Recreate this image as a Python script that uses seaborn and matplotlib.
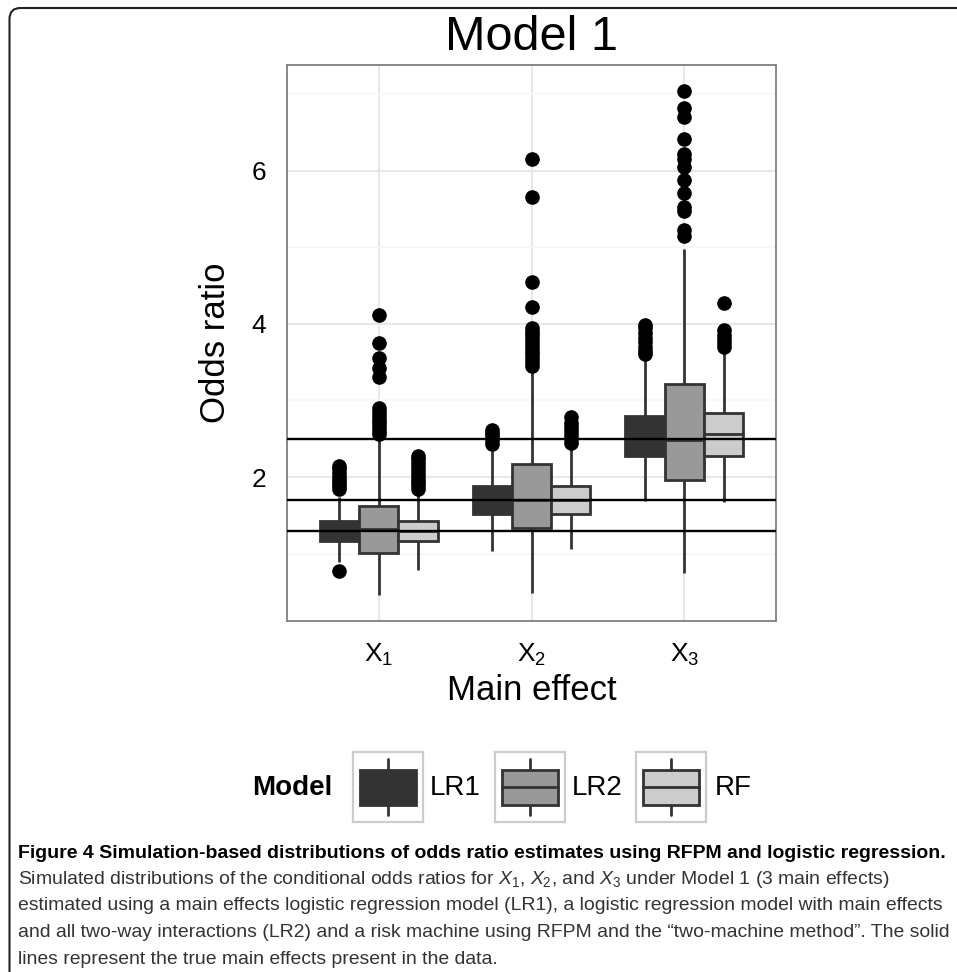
import numpy as np
import pandas as pd
import matplotlib
matplotlib.use("Agg")
import matplotlib.pyplot as plt
from matplotlib.patches import FancyBboxPatch, Rectangle
from matplotlib.transforms import IdentityTransform
import seaborn as sns

# ------------------------------ DATA ------------------------------

effects = ["X1", "X2", "X3"]
effect_labels = ["X$_1$", "X$_2$", "X$_3$"]
models = ["LR1", "LR2", "RF"]
model_colors = ["#333333", "#999999", "#cccccc"]
true_effects = [1.3, 1.7, 2.5]

# box summaries (rows = main effect, cols = model)
whisker_lo = [[0.89, 0.46, 0.78], [1.04, 0.49, 1.06], [1.69, 0.75, 1.67]]
q1 = [[1.17, 1.01, 1.16], [1.52, 1.33, 1.52], [2.28, 1.96, 2.27]]
median = [[1.30, 1.32, 1.30], [1.70, 1.70, 1.70], [2.52, 2.48, 2.56]]
q3 = [[1.42, 1.62, 1.43], [1.88, 2.17, 1.88], [2.80, 3.22, 2.83]]
whisker_hi = [[1.74, 2.51, 1.79], [2.34, 3.38, 2.40], [3.53, 4.98, 3.65]]

outliers_hi = [
    [[1.84, 1.88, 1.92, 1.96, 2.00, 2.05, 2.10, 2.15],
     [2.56, 2.60, 2.65, 2.70, 2.75, 2.80, 2.85, 2.90, 3.31, 3.43, 3.55, 3.75, 4.12],
     [1.85, 1.89, 1.93, 1.98, 2.03, 2.08, 2.13, 2.18, 2.23, 2.28]],
    [[2.43, 2.48, 2.53, 2.57, 2.61],
     [3.45, 3.50, 3.55, 3.60, 3.65, 3.70, 3.75, 3.80, 3.85, 3.90, 3.95, 4.22, 4.55, 5.65, 6.15],
     [2.45, 2.50, 2.55, 2.60, 2.65, 2.70, 2.78]],
    [[3.60, 3.65, 3.70, 3.76, 3.82, 3.88, 3.94, 3.99],
     [5.15, 5.23, 5.47, 5.52, 5.71, 5.88, 6.05, 6.15, 6.22, 6.41, 6.70, 6.82, 7.04],
     [3.70, 3.75, 3.80, 3.85, 3.92, 4.27]],
]
outliers_lo = [[[0.77], [], []], [[], [], []], [[], [], []]]

caption_title = ("Figure 4 Simulation-based distributions of odds ratio estimates "
                 "using RFPM and logistic regression.")
caption_lines = [
    "Simulated distributions of the conditional odds ratios for $X_1$, $X_2$, and $X_3$ "
    "under Model 1 (3 main effects)",
    "estimated using a main effects logistic regression model (LR1), a logistic "
    "regression model with main effects",
    "and all two-way interactions (LR2) and a risk machine using RFPM and the "
    "\u201ctwo-machine method\u201d. The solid",
    "lines represent the true main effects present in the data.",
]

# build a sample per box whose quartiles / whiskers reproduce the summaries above
M = 40
rows = []
for i, eff in enumerate(effects):
    for j, mod in enumerate(models):
        hi = outliers_hi[i][j]
        lo = outliers_lo[i][j]
        vals = (lo + [whisker_lo[i][j]] + [q1[i][j]] * (M - len(lo))
                + [median[i][j]] * M + [q3[i][j]] * (2 * M - 1 - len(hi))
                + [whisker_hi[i][j]] + hi)
        rows += [(eff, mod, v) for v in vals]
df = pd.DataFrame(rows, columns=["effect", "model", "odds"])

# ------------------------------ PLOT ------------------------------

sns.set_style("white")
plt.rcParams["font.family"] = ["Liberation Sans", "DejaVu Sans"]
plt.rcParams["text.color"] = "black"
plt.rcParams["axes.labelcolor"] = "black"
plt.rcParams["mathtext.fontset"] = "custom"
plt.rcParams["mathtext.rm"] = "Liberation Sans"
plt.rcParams["mathtext.it"] = "Liberation Sans:italic"

W, H = 957, 972
fig = plt.figure(figsize=(W / 100, H / 100), dpi=100)
ax = fig.add_axes([287 / W, 1 - 621 / H, (776 - 287) / W, (621 - 65) / H])

sns.boxplot(data=df, x="effect", y="odds", hue="model", order=effects,
            hue_order=models, palette=model_colors, saturation=1, width=0.77,
            gap=0, linewidth=2.0, linecolor="#333333", fliersize=9.5,
            showcaps=False,
            flierprops=dict(marker="o", markerfacecolor="black",
                            markeredgecolor="black"),
            legend=False, ax=ax)

for v in true_effects:
    ax.axhline(v, color="black", lw=1.7, zorder=5)

ax.set_xlim(-0.6, 2.6)
ax.set_ylim(0.12, 7.38)
ax.set_yticks([2, 4, 6])
ax.set_yticks([1, 3, 5, 7], minor=True)
ax.set_xticks([0, 1, 2])
ax.set_xticklabels(effect_labels)
ax.set_axisbelow(True)
ax.grid(True, which="major", color="#e5e5e5", lw=1.3)
ax.grid(True, which="minor", axis="y", color="#f7f7f7", lw=1.3)
ax.tick_params(which="major", length=8, width=1.8, color="#333333",
               labelsize=19, pad=7, labelcolor="black")
ax.tick_params(which="minor", length=0)
for s in ax.spines.values():
    s.set_color("#7f7f7f")
    s.set_linewidth(1.3)

ax.set_title("Model 1", fontsize=35, pad=11, color="black")
ax.set_xlabel("Main effect", fontsize=25, labelpad=4)
ax.set_ylabel("Odds ratio", fontsize=25, labelpad=14)

# legend (ggplot style keys)
fig.text(252 / W, 1 - 788 / H, "Model", fontsize=20, fontweight="bold",
         va="center", ha="left")
key_left = [353, 495, 636]
label_left = [430, 572, 715]
for k, mod in enumerate(models):
    kax = fig.add_axes([key_left[k] / W, 1 - 822 / H, 70 / W, 70 / H])
    kax.set_xlim(0, 1)
    kax.set_ylim(0, 1)
    kax.set_xticks([])
    kax.set_yticks([])
    for s in kax.spines.values():
        s.set_color("#cccccc")
        s.set_linewidth(1.6)
    kax.plot([0.5, 0.5], [0.1, 0.9], color="#333333", lw=2.0)
    kax.add_patch(Rectangle((0.1, 0.25), 0.8, 0.5, facecolor=model_colors[k],
                            edgecolor="#333333", lw=2.0, zorder=3))
    kax.plot([0.1, 0.9], [0.5, 0.5], color="#333333", lw=2.0, zorder=4)
    fig.text(label_left[k] / W, 1 - 788 / H, mod, fontsize=20, va="center",
             ha="left")

# caption
cap_font = ["Liberation Sans Narrow", "Liberation Sans", "DejaVu Sans"]
renderer = fig.canvas.get_renderer()
t = fig.text(18 / W, 1 - 853 / H, caption_title, fontsize=14, fontweight="bold",
             family=cap_font, va="center", ha="left", color="black")
w = t.get_window_extent(renderer).width
t.set_fontsize(14 * 930 / w)

line_y = [879, 905, 932, 959]
texts = []
for y, line in zip(line_y, caption_lines):
    texts.append(fig.text(18 / W, 1 - y / H, line, fontsize=14, family=cap_font,
                          va="center", ha="left", color="#333333"))
w = texts[1].get_window_extent(renderer).width
for tt in texts:
    tt.set_fontsize(14 * 930 / w)

# rounded frame of the figure panel (cut off at right and bottom)
frame = FancyBboxPatch((9.5, -60), 1100, H - 8 + 60,
                       boxstyle="round,pad=0,rounding_size=11",
                       transform=IdentityTransform(), facecolor="none",
                       edgecolor="#222222", lw=1.5)
fig.patches.append(frame)

fig.savefig("out.png", dpi=100)
